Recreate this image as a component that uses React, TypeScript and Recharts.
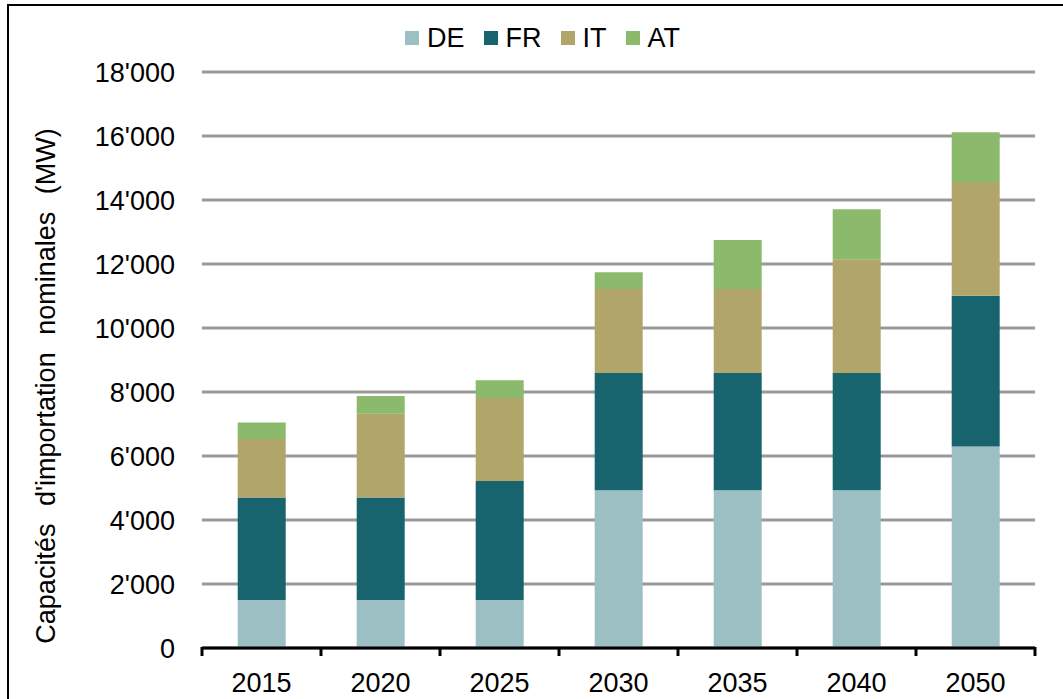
import React from "react";
import { BarChart, Bar, XAxis, YAxis, CartesianGrid, Legend } from "recharts";

const years = ["2015", "2020", "2025", "2030", "2035", "2040", "2050"];
const deValues = [1500, 1500, 1500, 4930, 4930, 4930, 6300];
const frValues = [3200, 3200, 3720, 3660, 3660, 3660, 4710];
const itValues = [1830, 2620, 2590, 2630, 2630, 3560, 3550];
const atValues = [520, 555, 560, 520, 1530, 1560, 1560];
const yTicks = [0, 2000, 4000, 6000, 8000, 10000, 12000, 14000, 16000, 18000];

const seriesNames = ["DE", "FR", "IT", "AT"];
const seriesColors = ["#9BBFC2", "#17646E", "#B2A56A", "#8BBA6C"];
const yLabel = "Capacités d'importation nominales (MW)";

const data = years.map((y, i) => ({
  year: y,
  DE: deValues[i],
  FR: frValues[i],
  IT: itValues[i],
  AT: atValues[i],
}));

const FONT = "'Liberation Sans', Arial, sans-serif";

const fmt = (n: number) => String(n).replace(/\B(?=(\d{3})+(?!\d))/g, "'");

const XTick = (props: any) => {
  const { x, y, payload, index } = props;
  const half = payload && payload.offset ? payload.offset : 119 / 2;
  const last = index === years.length - 1;
  return (
    <g>
      <line x1={x - half} x2={x - half} y1={y - 1} y2={y + 8} stroke="#000" strokeWidth={3} />
      {last && (
        <line x1={x + half} x2={x + half} y1={y - 1} y2={y + 8} stroke="#000" strokeWidth={3} />
      )}
      <text x={x} y={y + 44} textAnchor="middle" fontSize={27} fontFamily={FONT} fill="#000">
        {payload.value}
      </text>
    </g>
  );
};

const LegendContent = () => (
  <div
    style={{
      display: "flex",
      justifyContent: "center",
      alignItems: "center",
      paddingLeft: 22,
      height: 32,
      fontFamily: FONT,
      fontSize: 27,
      color: "#000",
    }}
  >
    {seriesNames.map((n, i) => (
      <div key={n} style={{ display: "flex", alignItems: "center", marginRight: i < 3 ? 19 : 0 }}>
        <div style={{ width: 14, height: 14, background: seriesColors[i], marginRight: 8 }} />
        <span style={{ lineHeight: "32px" }}>{n}</span>
      </div>
    ))}
  </div>
);

const YLabel = () => (
  <text
    x={55}
    y={386}
    transform="rotate(-90 55 386)"
    textAnchor="middle"
    fontSize={27}
    fontFamily={FONT}
    fill="#000"
    wordSpacing={10}
  >
    {yLabel}
  </text>
);

export default function App() {
  return (
    <div
      style={{
        position: "absolute",
        left: 0,
        top: 0,
        width: 1063,
        height: 699,
        overflow: "hidden",
        background: "#fff",
      }}
    >
      <div
        style={{
          position: "absolute",
          left: 7,
          top: 4,
          width: 1200,
          height: 900,
          border: "2px solid #000",
          boxSizing: "border-box",
        }}
      />
      <div style={{ position: "absolute", left: 0, top: 0 }}>
        <BarChart
          width={1063}
          height={699}
          data={data}
          margin={{ top: 40, right: 28, bottom: 0, left: 0 }}
          barCategoryGap="30%"
        >
          <CartesianGrid vertical={false} stroke="#999" strokeWidth={3} />
          <XAxis
            dataKey="year"
            axisLine={{ stroke: "#000", strokeWidth: 3 }}
            tickLine={false}
            tickSize={0}
            tickMargin={0}
            tick={<XTick />}
            interval={0}
            height={51}
          />
          <YAxis
            width={202}
            domain={[0, 18000]}
            ticks={yTicks}
            tickFormatter={fmt}
            axisLine={false}
            tickLine={false}
            tickSize={0}
            tickMargin={27}
            tick={{ fontSize: 27, fontFamily: FONT, fill: "#000" }}
            label={<YLabel />}
          />
          <Legend
            verticalAlign="top"
            content={<LegendContent />}
            wrapperStyle={{ top: 22, left: 0, width: 1063, height: 32 }}
          />
          {seriesNames.map((n, i) => (
            <Bar
              key={n}
              dataKey={n}
              stackId="a"
              fill={seriesColors[i]}
              isAnimationActive={false}
            />
          ))}
        </BarChart>
      </div>
    </div>
  );
}
